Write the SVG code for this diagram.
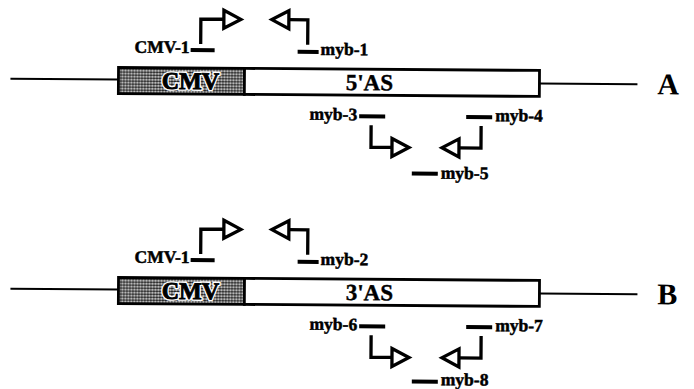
<svg xmlns="http://www.w3.org/2000/svg" width="694" height="389" viewBox="0 0 694 389">
  <defs>
    <pattern id="stipple" width="3" height="3" patternUnits="userSpaceOnUse">
      <rect width="3" height="3" fill="#fff"/>
      <circle cx="1.5" cy="1.5" r="1.25" fill="#000"/>
    </pattern>
  </defs>
  <style>
    .dna { stroke: #000; stroke-width: 2; fill: none; }
    .box { stroke: #000; stroke-width: 2.8; }
    .stem { stroke: #000; stroke-width: 3.3; fill: none; }
    .head { stroke: #000; stroke-width: 3.3; fill: #fff; stroke-linejoin: miter; }
    .primer { stroke: #000; stroke-width: 4; }
    .lbl { font-family: "Liberation Serif", "Times New Roman", serif; font-weight: bold; font-size: 17.5px; fill: #000; stroke: #000; stroke-width: 0.5; }
    .seg { font-family: "Liberation Serif", "Times New Roman", serif; font-weight: bold; font-size: 23px; fill: #000; stroke: #000; stroke-width: 0.4; }
    .cmv { font-family: "Liberation Serif", "Times New Roman", serif; font-weight: bold; font-size: 24px; }
    .halo { fill: #fff; stroke: #fff; stroke-width: 3.5; }
    .ink { fill: #000; stroke: #000; stroke-width: 0.9; }
    .panel { font-family: "Liberation Serif", "Times New Roman", serif; font-weight: bold; font-size: 30px; fill: #000; }
  </style>

  <!-- Construct A: CMV promoter + 5' antisense fragment -->
  <g id="constructA" transform="rotate(0.4 330 0)">
    <g id="vectorA">
      <line class="dna" x1="11" y1="81" x2="119" y2="81"/>
      <line class="dna" x1="540" y1="82" x2="638" y2="82"/>
      <rect class="box" x="119" y="69" width="126" height="26" fill="url(#stipple)"/>
      <rect class="box" x="245" y="69" width="295" height="26" fill="#fff"/>
      <text class="cmv halo" x="191" y="90" text-anchor="middle" aria-hidden="true">CMV</text>
      <text class="cmv ink" x="191" y="90" text-anchor="middle">CMV</text>
      <text class="seg" x="370" y="90" text-anchor="middle">5'AS</text>
      <text class="panel" x="658" y="92">A</text>
    </g>
    <g id="primersA">
      <g id="cmv1A">
        <line class="primer" x1="191" y1="51" x2="215" y2="51"/>
        <text class="lbl" x="190" y="54" text-anchor="end">CMV-1</text>
      </g>
      <g id="myb1">
        <line class="primer" x1="298" y1="52" x2="319" y2="52"/>
        <text class="lbl" x="321" y="55">myb-1</text>
      </g>
      <g id="myb3">
        <line class="primer" x1="360" y1="116" x2="386" y2="116"/>
        <text class="lbl" x="358" y="120" text-anchor="end">myb-3</text>
      </g>
      <g id="myb4">
        <line class="primer" x1="467" y1="116" x2="493" y2="116"/>
        <text class="lbl" x="496" y="120">myb-4</text>
      </g>
      <g id="myb5">
        <line class="primer" x1="413" y1="173" x2="439" y2="173"/>
        <text class="lbl" x="442" y="178">myb-5</text>
      </g>
    </g>
    <g id="arrowsA">
      <path class="stem" d="M201,45 V20 H224"/>
      <path class="head" d="M224,11 L241,20 L224,29 Z"/>
      <path class="stem" d="M308,45 V20 H289"/>
      <path class="head" d="M289,11 L272,20 L289,29 Z"/>
      <path class="stem" d="M372,125 V147 H393"/>
      <path class="head" d="M393,138 L410,147 L393,156 Z"/>
      <path class="stem" d="M482,125 V147 H460"/>
      <path class="head" d="M460,138 L443,147 L460,156 Z"/>
    </g>
  </g>

  <!-- Construct B: CMV promoter + 3' antisense fragment -->
  <g id="constructB" transform="translate(0,210) rotate(0.4 330 0)">
    <g id="vectorB">
      <line class="dna" x1="11" y1="81" x2="119" y2="81"/>
      <line class="dna" x1="540" y1="82" x2="638" y2="82"/>
      <rect class="box" x="119" y="69" width="126" height="26" fill="url(#stipple)"/>
      <rect class="box" x="245" y="69" width="295" height="26" fill="#fff"/>
      <text class="cmv halo" x="191" y="90" text-anchor="middle" aria-hidden="true">CMV</text>
      <text class="cmv ink" x="191" y="90" text-anchor="middle">CMV</text>
      <text class="seg" x="370" y="90" text-anchor="middle">3'AS</text>
      <text class="panel" x="658" y="92">B</text>
    </g>
    <g id="primersB">
      <g id="cmv1B">
        <line class="primer" x1="191" y1="51" x2="215" y2="51"/>
        <text class="lbl" x="190" y="54" text-anchor="end">CMV-1</text>
      </g>
      <g id="myb2">
        <line class="primer" x1="298" y1="52" x2="319" y2="52"/>
        <text class="lbl" x="321" y="55">myb-2</text>
      </g>
      <g id="myb6">
        <line class="primer" x1="360" y1="116" x2="386" y2="116"/>
        <text class="lbl" x="358" y="120" text-anchor="end">myb-6</text>
      </g>
      <g id="myb7">
        <line class="primer" x1="467" y1="116" x2="493" y2="116"/>
        <text class="lbl" x="496" y="120">myb-7</text>
      </g>
      <g id="myb8">
        <line class="primer" x1="413" y1="171" x2="439" y2="171"/>
        <text class="lbl" x="442" y="174.5">myb-8</text>
      </g>
    </g>
    <g id="arrowsB">
      <path class="stem" d="M201,45 V20 H224"/>
      <path class="head" d="M224,11 L241,20 L224,29 Z"/>
      <path class="stem" d="M308,45 V20 H289"/>
      <path class="head" d="M289,11 L272,20 L289,29 Z"/>
      <path class="stem" d="M372,125 V147 H393"/>
      <path class="head" d="M393,138 L410,147 L393,156 Z"/>
      <path class="stem" d="M482,125 V147 H460"/>
      <path class="head" d="M460,138 L443,147 L460,156 Z"/>
    </g>
  </g>
</svg>
